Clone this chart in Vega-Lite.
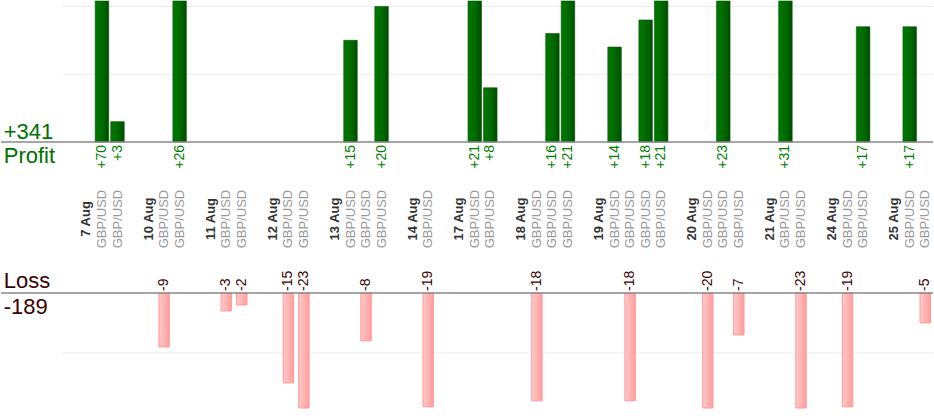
{
  "$schema": "https://vega.github.io/schema/vega-lite/v6.json",
  "description": "Profit and loss per GBP/USD trade, 7 to 25 Aug.",
  "width": 934,
  "height": 420,
  "autosize": {"type": "fit", "contains": "padding"},
  "padding": 0,
  "background": "white",
  "config": {"view": {"stroke": null}, "font": "Liberation Sans"},
  "datasets": {
    "trades": [
      {"slot": "T01", "day": "7 Aug", "pair": "GBP/USD", "pl": 70},
      {"slot": "T02", "day": "7 Aug", "pair": "GBP/USD", "pl": 3},
      {"slot": "T03", "day": "10 Aug", "pair": "GBP/USD", "pl": -9},
      {"slot": "T04", "day": "10 Aug", "pair": "GBP/USD", "pl": 26},
      {"slot": "T05", "day": "11 Aug", "pair": "GBP/USD", "pl": -3},
      {"slot": "T06", "day": "11 Aug", "pair": "GBP/USD", "pl": -2},
      {"slot": "T07", "day": "12 Aug", "pair": "GBP/USD", "pl": -15},
      {"slot": "T08", "day": "12 Aug", "pair": "GBP/USD", "pl": -23},
      {"slot": "T09", "day": "13 Aug", "pair": "GBP/USD", "pl": 15},
      {"slot": "T10", "day": "13 Aug", "pair": "GBP/USD", "pl": -8},
      {"slot": "T11", "day": "13 Aug", "pair": "GBP/USD", "pl": 20},
      {"slot": "T12", "day": "14 Aug", "pair": "GBP/USD", "pl": -19},
      {"slot": "T13", "day": "17 Aug", "pair": "GBP/USD", "pl": 21},
      {"slot": "T14", "day": "17 Aug", "pair": "GBP/USD", "pl": 8},
      {"slot": "T15", "day": "18 Aug", "pair": "GBP/USD", "pl": -18},
      {"slot": "T16", "day": "18 Aug", "pair": "GBP/USD", "pl": 16},
      {"slot": "T17", "day": "18 Aug", "pair": "GBP/USD", "pl": 21},
      {"slot": "T18", "day": "19 Aug", "pair": "GBP/USD", "pl": 14},
      {"slot": "T19", "day": "19 Aug", "pair": "GBP/USD", "pl": -18},
      {"slot": "T20", "day": "19 Aug", "pair": "GBP/USD", "pl": 18},
      {"slot": "T21", "day": "19 Aug", "pair": "GBP/USD", "pl": 21},
      {"slot": "T22", "day": "20 Aug", "pair": "GBP/USD", "pl": -20},
      {"slot": "T23", "day": "20 Aug", "pair": "GBP/USD", "pl": 23},
      {"slot": "T24", "day": "20 Aug", "pair": "GBP/USD", "pl": -7},
      {"slot": "T25", "day": "21 Aug", "pair": "GBP/USD", "pl": 31},
      {"slot": "T26", "day": "21 Aug", "pair": "GBP/USD", "pl": -23},
      {"slot": "T27", "day": "24 Aug", "pair": "GBP/USD", "pl": -19},
      {"slot": "T28", "day": "24 Aug", "pair": "GBP/USD", "pl": 17},
      {"slot": "T29", "day": "25 Aug", "pair": "GBP/USD", "pl": 17},
      {"slot": "T30", "day": "25 Aug", "pair": "GBP/USD", "pl": -5}
    ],
    "days": [
      {"slot": "D07", "day": "7 Aug"},
      {"slot": "D10", "day": "10 Aug"},
      {"slot": "D11", "day": "11 Aug"},
      {"slot": "D12", "day": "12 Aug"},
      {"slot": "D13", "day": "13 Aug"},
      {"slot": "D14", "day": "14 Aug"},
      {"slot": "D17", "day": "17 Aug"},
      {"slot": "D18", "day": "18 Aug"},
      {"slot": "D19", "day": "19 Aug"},
      {"slot": "D20", "day": "20 Aug"},
      {"slot": "D21", "day": "21 Aug"},
      {"slot": "D24", "day": "24 Aug"},
      {"slot": "D25", "day": "25 Aug"}
    ]
  },
  "resolve": {"scale": {"y": "independent"}},
  "layer": [
    {
      "data": {"values": [{"v": 10}, {"v": 20}]},
      "mark": {"type": "rule", "color": "#ebebeb", "strokeWidth": 1},
      "encoding": {
        "x": {"datum": "L5", "type": "nominal", "bandPosition": 0,
          "scale": {"paddingInner": 0, "paddingOuter": 0,
            "domain": ["L1", "L2", "L3", "L4", "L5", "D07", "T01", "T02", "G1", "D10", "T03", "T04", "G2", "D11", "T05", "T06", "G3", "D12", "T07", "T08", "G4", "D13", "T09", "T10", "T11", "G5", "D14", "T12", "G6", "D17", "T13", "T14", "G7", "D18", "T15", "T16", "T17", "G8", "D19", "T18", "T19", "T20", "T21", "G9", "D20", "T22", "T23", "T24", "G10", "D21", "T25", "T26", "G11", "D24", "T27", "T28", "G12", "D25", "T29", "T30"]},
          "axis": null},
        "x2": {"datum": "T30", "bandPosition": 1},
        "y": {"field": "v", "type": "quantitative", "scale": {"domain": [0, 20.8], "range": [141, 0], "clamp": true}, "axis": null}
      }
    },
    {
      "data": {"values": [{"v": -10}]},
      "mark": {"type": "rule", "color": "#ebebeb", "strokeWidth": 1},
      "encoding": {
        "x": {"datum": "L5", "type": "nominal", "bandPosition": 0, "axis": null},
        "x2": {"datum": "T30", "bandPosition": 1},
        "y": {"field": "v", "type": "quantitative", "scale": {"domain": [-19.2, 0], "range": [407, 292], "clamp": true}, "axis": null}
      }
    },
    {
      "data": {"name": "trades"},
      "transform": [{"filter": "datum.pl > 0"}],
      "mark": {
        "type": "bar",
        "width": {"band": 0.87},
        "stroke": "#005500",
        "strokeWidth": 0.6,
        "fill": {"gradient": "linear", "x1": 0, "y1": 0, "x2": 1, "y2": 0,
          "stops": [{"offset": 0, "color": "#007800"}, {"offset": 0.55, "color": "#006a00"}, {"offset": 1, "color": "#004c00"}]}
      },
      "encoding": {
        "x": {"field": "slot", "type": "nominal", "axis": null},
        "y": {"field": "pl", "type": "quantitative", "scale": {"domain": [0, 20.8], "range": [141, 0], "clamp": true}, "axis": null}
      }
    },
    {
      "data": {"name": "trades"},
      "transform": [{"filter": "datum.pl < 0"}],
      "mark": {
        "type": "bar",
        "width": {"band": 0.67},
        "stroke": "#ff9a9a",
        "strokeWidth": 1,
        "fill": {"gradient": "linear", "x1": 0, "y1": 0, "x2": 1, "y2": 0,
          "stops": [{"offset": 0, "color": "#ffcaca"}, {"offset": 1, "color": "#ff9d9d"}]}
      },
      "encoding": {
        "x": {"field": "slot", "type": "nominal", "axis": null},
        "y": {"field": "pl", "type": "quantitative", "scale": {"domain": [-19.2, 0], "range": [407, 292], "clamp": true}, "axis": null}
      }
    },
    {
      "data": {"values": [{}]},
      "mark": {"type": "rule", "color": "#888888", "strokeWidth": 1.3},
      "encoding": {
        "y": {"datum": 0, "type": "quantitative", "scale": {"domain": [0, 20.8], "range": [141, 0]}, "axis": null}
      }
    },
    {
      "data": {"values": [{}]},
      "mark": {"type": "rule", "color": "#888888", "strokeWidth": 1.3},
      "encoding": {
        "y": {"datum": 0, "type": "quantitative", "scale": {"domain": [-19.2, 0], "range": [407, 292]}, "axis": null}
      }
    },
    {
      "data": {"name": "trades"},
      "transform": [{"filter": "datum.pl > 0"}],
      "mark": {"type": "text", "angle": 270, "align": "right", "baseline": "middle", "dx": -3, "fontSize": 14, "color": "#008000"},
      "encoding": {
        "x": {"field": "slot", "type": "nominal", "axis": null},
        "y": {"datum": 0, "type": "quantitative", "scale": {"domain": [0, 20.8], "range": [141, 0]}, "axis": null},
        "text": {"field": "pl", "type": "quantitative", "format": "+d"}
      }
    },
    {
      "data": {"name": "trades"},
      "transform": [{"filter": "datum.pl < 0"}],
      "mark": {"type": "text", "angle": 270, "align": "left", "baseline": "middle", "dx": 2, "fontSize": 14, "color": "#400000"},
      "encoding": {
        "x": {"field": "slot", "type": "nominal", "axis": null},
        "y": {"datum": 0, "type": "quantitative", "scale": {"domain": [-19.2, 0], "range": [407, 292]}, "axis": null},
        "text": {"field": "pl", "type": "nominal"}
      }
    },
    {
      "data": {"name": "trades"},
      "mark": {"type": "text", "angle": 270, "align": "center", "baseline": "middle", "dx": -77, "fontSize": 13, "color": "#999999"},
      "encoding": {
        "x": {"field": "slot", "type": "nominal", "axis": null},
        "y": {"datum": 0, "type": "quantitative", "scale": {"domain": [0, 20.8], "range": [141, 0]}, "axis": null},
        "text": {"field": "pair", "type": "nominal"}
      }
    },
    {
      "data": {"name": "days"},
      "mark": {"type": "text", "angle": 270, "align": "center", "baseline": "middle", "dx": -77, "fontSize": 13, "fontWeight": "bold", "color": "#333333"},
      "encoding": {
        "x": {"field": "slot", "type": "nominal", "axis": null},
        "y": {"datum": 0, "type": "quantitative", "scale": {"domain": [0, 20.8], "range": [141, 0]}, "axis": null},
        "text": {"field": "day", "type": "nominal"}
      }
    },
    {
      "data": {"name": "trades"},
      "transform": [{"filter": "datum.pl > 0"}, {"aggregate": [{"op": "sum", "field": "pl", "as": "total"}]}],
      "layer": [
        {
          "mark": {"type": "text", "align": "left", "baseline": "alphabetic", "dx": -5, "dy": -3, "fontSize": 22, "color": "#007000"},
          "encoding": {"text": {"field": "total", "type": "quantitative", "format": "+d"}}
        },
        {
          "mark": {"type": "text", "align": "left", "baseline": "alphabetic", "dx": -5, "dy": 21, "fontSize": 22, "color": "#007000"},
          "encoding": {"text": {"value": "Profit"}}
        }
      ],
      "encoding": {
        "x": {"datum": "L1", "type": "nominal", "axis": null},
        "y": {"datum": 0, "type": "quantitative", "scale": {"domain": [0, 20.8], "range": [141, 0]}, "axis": null}
      }
    },
    {
      "data": {"name": "trades"},
      "transform": [{"filter": "datum.pl < 0"}, {"aggregate": [{"op": "sum", "field": "pl", "as": "total"}]}],
      "layer": [
        {
          "mark": {"type": "text", "align": "left", "baseline": "alphabetic", "dx": -5, "dy": 21, "fontSize": 22, "color": "#3a0000"},
          "encoding": {"text": {"field": "total", "type": "nominal"}}
        },
        {
          "mark": {"type": "text", "align": "left", "baseline": "alphabetic", "dx": -5, "dy": -5, "fontSize": 22, "color": "#3a0000"},
          "encoding": {"text": {"value": "Loss"}}
        }
      ],
      "encoding": {
        "x": {"datum": "L1", "type": "nominal", "axis": null},
        "y": {"datum": 0, "type": "quantitative", "scale": {"domain": [-19.2, 0], "range": [407, 292]}, "axis": null}
      }
    }
  ]
}
